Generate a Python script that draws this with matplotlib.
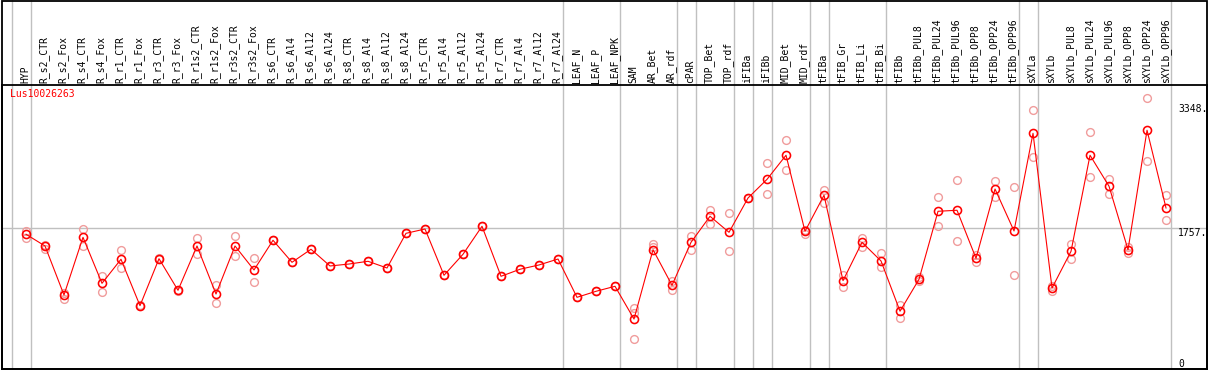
import numpy as np
import matplotlib.pyplot as plt
from matplotlib.patches import Rectangle
from matplotlib.transforms import blended_transform_factory

# sample names along the top
samples = ["HYP", "R_s2_CTR", "R_s2_Fox", "R_s4_CTR", "R_s4_Fox", "R_r1_CTR", "R_r1_Fox",
           "R_r3_CTR", "R_r3_Fox", "R_r1s2_CTR", "R_r1s2_Fox", "R_r3s2_CTR", "R_r3s2_Fox",
           "R_s6_CTR", "R_s6_Al4", "R_s6_Al12", "R_s6_Al24", "R_s8_CTR", "R_s8_Al4",
           "R_s8_Al12", "R_s8_Al24", "R_r5_CTR", "R_r5_Al4", "R_r5_Al12", "R_r5_Al24",
           "R_r7_CTR", "R_r7_Al4", "R_r7_Al12", "R_r7_Al24", "LEAF_N", "LEAF_P", "LEAF_NPK",
           "SAM", "AR_Bet", "AR_rdf", "cPAR", "TOP_Bet", "TOP_rdf", "iFIBa", "iFIBb",
           "MID_Bet", "MID_rdf", "tFIBa", "tFIB_Gr", "tFIB_Li", "tFIB_Bi", "tFIBb",
           "tFIBb_PUL8", "tFIBb_PUL24", "tFIBb_PUL96", "tFIBb_OPP8", "tFIBb_OPP24",
           "tFIBb_OPP96", "sXYLa", "sXYLb", "sXYLb_PUL8", "sXYLb_PUL24", "sXYLb_PUL96",
           "sXYLb_OPP8", "sXYLb_OPP24", "sXYLb_OPP96"]

# mean expression
means = [1681, 1531, 904, 1642, 1053, 1361, 767, 1368, 964, 1531, 916, 1531, 1224,
         1604, 1322, 1489, 1275, 1300, 1335, 1249, 1693, 1748, 1156, 1425, 1783,
         1143, 1233, 1288, 1364, 874, 951, 1015,
         596, 1483, 1028, 1578, 1911, 1706, 2145, 2384,
         2692, 1719, 2180, 1087, 1578, 1339, 696,
         1105, 1975, 1988, 1373, 2260, 1723,
         2973, 993, 1463, 2692, 2295, 1483, 3012, 2017]

# replicates (two per sample, SAM has a third)
rep1 = [1723, 1545, 925, 1748, 1147, 1476, 760, 1362, 958, 1629, 1028, 1655, 1373,
        1604, 1322, 1489, 1275, 1300, 1335, 1249, 1693, 1748, 1156, 1425, 1783,
        1143, 1233, 1288, 1364, 874, 951, 1015,
        733, 1553, 1087, 1663, 1992, 1949, 2145, 2589,
        2884, 1736, 2251, 1156, 1633, 1441, 779,
        1138, 2158, 2372, 1419, 2363, 2286,
        3268, 1019, 1560, 2986, 2388, 1514, 3421, 2180]
rep2 = [1637, 1489, 852, 1531, 946, 1245, 775, 1374, 970, 1425, 797, 1407, 1066,
        1604, 1322, 1489, 1275, 1300, 1335, 1249, 1693, 1748, 1156, 1425, 1783,
        1143, 1233, 1288, 1364, 874, 951, 1015,
        677, 1522, 968, 1483, 1816, 1463, 2145, 2193,
        2500, 1684, 2077, 1002, 1522, 1266, 605,
        1079, 1791, 1591, 1322, 2162, 1156,
        2666, 959, 1361, 2410, 2196, 1437, 2615, 1864]
extra_rep = {"SAM": 340}

# last sample index of each group (gray separators)
group_ends = [-1, 0, 28, 31, 34, 35, 37, 38, 39, 41, 42, 45, 52, 53, 60]

gene = "Lus10026263"
ytick_vals = [3348, 1757, 0]

W, H = 1209, 370
fig = plt.figure(figsize=(W / 100, H / 100), dpi=100)
ax = fig.add_axes([1.5 / W, (H - 368.5) / H, 1205 / W, 283.5 / H])
ax.set_xlim(-1.289, 62.13)
ax.set_ylim(-37, 3591)
ax.set_xticks([])
ax.set_yticks([])
for s in ax.spines.values():
    s.set_linewidth(1.3)

x = np.arange(len(samples))
top_frac = 368.5 / 283.5

for g in group_ends:
    ax.axvline(g + 0.247, ymin=0, ymax=top_frac, color="#c0c0c0", lw=1.0,
               clip_on=False, zorder=0)
ax.axhline(1757, color="#c0c0c0", lw=1.0, zorder=0)

pink = "#f09c9c"
ax.plot(x, rep1, "o", ms=5.6, mfc="none", mec=pink, mew=1.0, zorder=2)
ax.plot(x, rep2, "o", ms=5.6, mfc="none", mec=pink, mew=1.0, zorder=2)
for name, v in extra_rep.items():
    ax.plot(samples.index(name), v, "o", ms=5.6, mfc="none", mec=pink, mew=1.0, zorder=2)

ax.plot(x, means, "-", color="red", lw=0.8, zorder=3)
ax.plot(x, means, "o", ms=5.8, mfc="none", mec="red", mew=1.15, zorder=4)

mono = "DejaVu Sans Mono"
trans = blended_transform_factory(ax.transData, ax.transAxes)
for i, name in enumerate(samples):
    ax.text(i - 0.05, 1.0 + 2.5 / 283.5, name, rotation=90, ha="center", va="bottom",
            fontsize=7, family=mono, transform=trans, clip_on=False)

ax.text(-0.84, 3540, gene, color="red", fontsize=7, family=mono, ha="left", va="top")

ax.text(60.63, ytick_vals[0], "3348.", fontsize=7, family=mono, ha="left", va="top")
ax.text(60.63, ytick_vals[1], "1757.", fontsize=7, family=mono, ha="left", va="top")
ax.text(60.63, 81, "0", fontsize=7, family=mono, ha="left", va="top")

# outer frame around header and plot
fig.add_artist(Rectangle((1.5 / W, 1.5 / H), 1205 / W, (H - 2) / H, fill=False,
                         edgecolor="black", lw=1.3, transform=fig.transFigure))

fig.savefig("out.png", dpi=100)
